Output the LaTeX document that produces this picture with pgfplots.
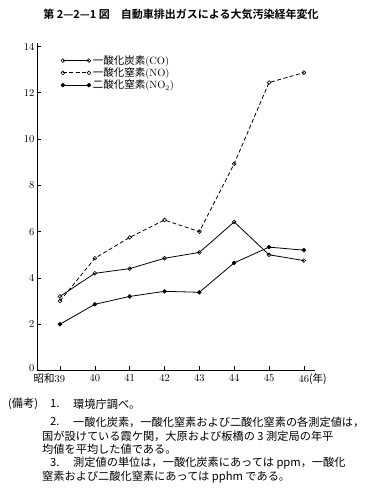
\documentclass[border=0pt]{standalone}
\usepackage{pgfplots}
\pgfplotsset{compat=1.18}
\usepackage{fontspec}
\newfontfamily\jp{Noto Sans CJK JP}
\newfontfamily\jpb{Noto Sans CJK JP Bold}
\begin{document}
\begin{tikzpicture}[x=1bp,y=1bp]
\path[use as bounding box] (0bp,0bp) rectangle (367bp,494bp);
\begin{axis}[
  at={(37bp,123.5bp)}, anchor=south west,
  scale only axis, width=278bp, height=327.5bp,
  xmin=38.34, xmax=46.32, ymin=0, ymax=14.15,
  axis x line=bottom, axis y line=left,
  axis line style={-, line width=0.8pt},
  tick align=inside, major tick length=4bp,
  tick style={line width=0.6pt, black},
  xtick={39,...,46},
  xticklabels={\llap{\jp 昭和}39,40,41,42,43,44,45,46\rlap{\jp(年)}},
  ytick={0,2,...,14},
  yticklabels={\raisebox{5bp}{0},2,4,6,8,10,12,14},
  ticklabel style={font=\fontsize{10.5bp}{11bp}\selectfont},
  x tick label style={yshift=0bp},
  y tick label style={xshift=1bp},
  legend style={at={(0.075,0.975)}, anchor=north west, draw=none, fill=none,
    font=\fontsize{10.5bp}{12bp}\selectfont, row sep=-2bp,
    legend cell align=left},
  legend image code/.code={\draw[mark repeat=2,mark phase=1,#1] plot coordinates {(0bp,0bp) (13bp,0bp) (26bp,0bp)};},
  every axis plot/.append style={black, line width=0.8pt, mark size=1.9bp, mark options={solid, line width=0.6pt}},
]
\addplot[mark=o] coordinates {(39,3.2) (40,4.2) (41,4.4) (42,4.85) (43,5.1) (44,6.42) (45,5.0) (46,4.75)};
\addlegendentry{{\jp 一酸化炭素}(CO)}
\addplot[mark=o, dash pattern=on 4bp off 2.5bp] coordinates {(39,3.0) (40,4.85) (41,5.75) (42,6.5) (43,6.0) (44,8.93) (45,12.44) (46,12.87)};
\addlegendentry{{\jp 一酸化窒素}(NO)}
\addplot[mark=*] coordinates {(39,2.0) (40,2.86) (41,3.2) (42,3.42) (43,3.38) (44,4.65) (45,5.33) (46,5.2)};
\addlegendentry{{\jp 二酸化窒素}(NO$_2$)}
\end{axis}
\node[font=\jpb\fontsize{11bp}{13bp}\selectfont] at (181bp,480bp) {第 2—2—1 図\quad 自動車排出ガスによる大気汚染経年変化};
\begin{scope}[every node/.style={anchor=west, inner sep=0pt, font=\jp\fontsize{11.2bp}{12bp}\selectfont}]
\node at (8bp,90bp) {(備考)};
\node at (50bp,90bp) {1.};
\node at (73bp,90bp) {環境庁調べ。};
\node at (50bp,72bp) {2.};
\node at (73bp,72bp) {一酸化炭素，一酸化窒素および二酸化窒素の各測定値は，};
\node at (42bp,58bp) {国が設けている霞ケ関，大原および板橋の 3 測定局の年平};
\node at (42bp,45bp) {均値を平均した値である。};
\node at (50bp,31bp) {3.};
\node at (73bp,31bp) {測定値の単位は，一酸化炭素にあっては ppm，一酸化};
\node at (42bp,17bp) {窒素および二酸化窒素にあっては pphm である。};
\end{scope}
\end{tikzpicture}
\end{document}
